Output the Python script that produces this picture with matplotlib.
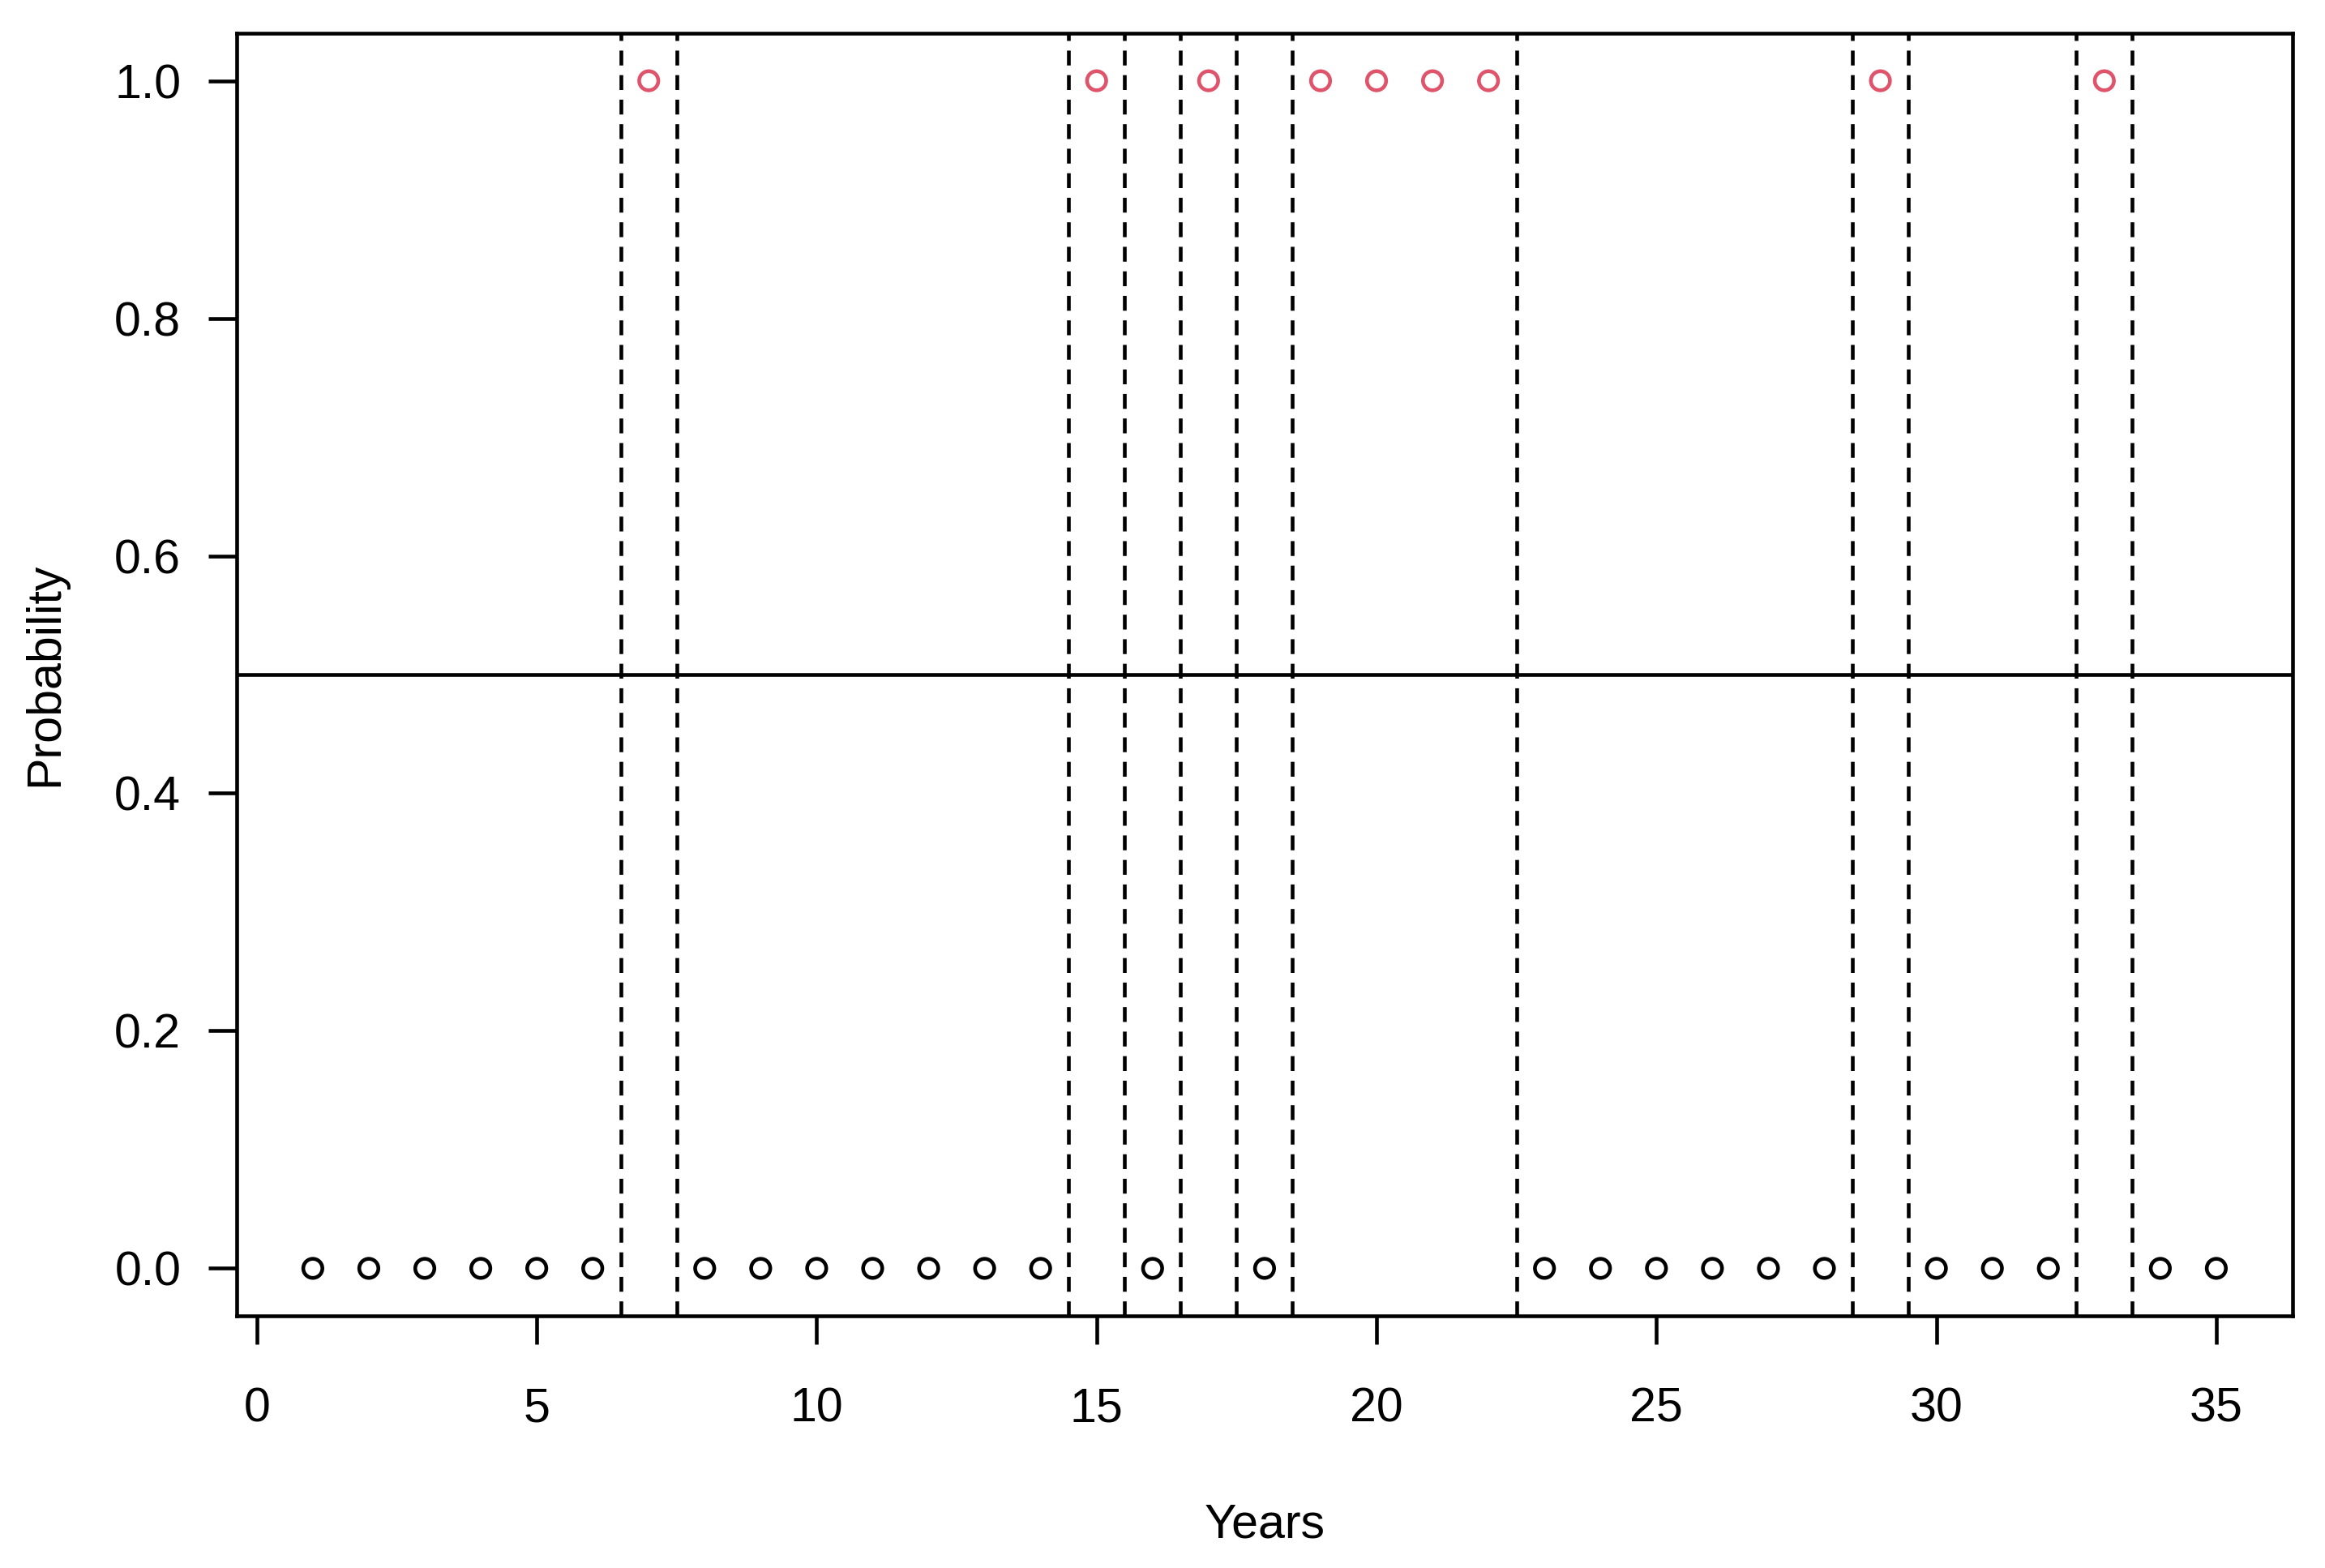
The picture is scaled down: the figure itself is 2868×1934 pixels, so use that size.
import numpy as np
import matplotlib
matplotlib.use("Agg")
import matplotlib.pyplot as plt

plt.rcParams["font.family"] = ["Liberation Sans", "DejaVu Sans"]

# ── data ────────────────────────────────────────────────────────────────
years = np.arange(1, 36)
prob = np.array([0, 0, 0, 0, 0, 0, 1, 0, 0, 0, 0, 0, 0, 0, 1, 0, 1, 0,
                 1, 1, 1, 1, 0, 0, 0, 0, 0, 0, 1, 0, 0, 0, 1, 0, 0])
breaks = [6.5, 7.5, 14.5, 15.5, 16.5, 17.5, 18.5, 22.5, 28.5, 29.5, 32.5, 33.5]
threshold = 0.5
x_ticks = [0, 5, 10, 15, 20, 25, 30, 35]
y_ticks = [0.0, 0.2, 0.4, 0.6, 0.8, 1.0]

RED = "#DF536B"
LW = 1.1
FS = 14.2

fig = plt.figure(figsize=(2868 / 300, 1934 / 300), dpi=300)
ax = fig.add_axes([0.1018, 0.1608, 0.986 - 0.1018, 0.9788 - 0.1608])

cols = [RED if p >= threshold else "black" for p in prob]
ax.scatter(years, prob, s=32, facecolors="none", edgecolors=cols,
           linewidths=LW, zorder=3)

for b in breaks:
    ax.axvline(b, color="black", linewidth=LW, linestyle=(0, (4.0, 2.6)))
ax.axhline(threshold, color="black", linewidth=LW)

pad = 0.04 * (years.max() - years.min())
ax.set_xlim(years.min() - pad, years.max() + pad)
ax.set_ylim(-0.04, 1.04)

ax.set_xticks(x_ticks)
ax.set_xticklabels([str(t) for t in x_ticks])
ax.set_yticks(y_ticks)
ax.set_yticklabels([f"{t:.1f}" for t in y_ticks])
ax.tick_params(axis="both", direction="out", length=8.5, width=LW,
               labelsize=FS, color="black")
ax.tick_params(axis="x", pad=12.5)
ax.tick_params(axis="y", pad=8)

for s in ax.spines.values():
    s.set_linewidth(LW)

ax.set_xlabel("Years", fontsize=FS, labelpad=21)
ax.set_ylabel("Probability", fontsize=FS, labelpad=14)

fig.savefig("out.png", dpi=300, facecolor="white")
